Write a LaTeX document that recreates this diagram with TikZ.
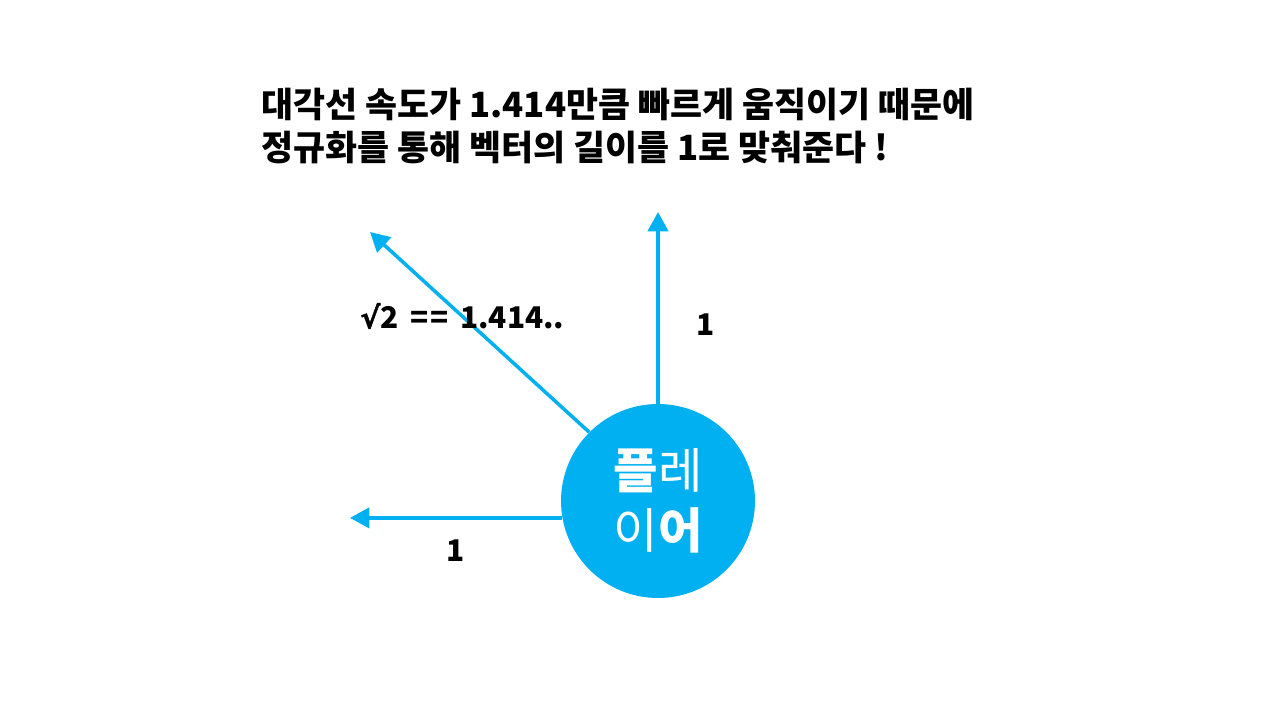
\documentclass[tikz,border=0pt]{standalone}
\usepackage{fontspec}
\setmainfont{Noto Sans CJK KR}
\newfontfamily\symfont{DejaVu Sans}[FakeBold=1.5]
\usepackage{xcolor}
\usepackage{tikz}
\usetikzlibrary{arrows.meta,positioning}
\definecolor{skyblue}{HTML}{00B0F0}

\begin{document}
\begin{tikzpicture}[
  x=0.02cm, y=-0.02cm, >={Triangle[length=11pt,width=11.5pt]},
  player/.style={circle, fill=skyblue, minimum size=3.88cm, inner sep=0pt, text=white, font=\fontsize{27.5}{34}\selectfont, align=center},
  vec/.style={->, line width=2pt, skyblue},
  label/.style={font=\fontsize{17}{20}\selectfont\bfseries, inner sep=0pt},
  title/.style={font=\fontsize{19.8}{25}\selectfont\bfseries, align=left, inner sep=0pt}
]
\useasboundingbox (0,0) rectangle (1280,720);

\node[title, anchor=west] (head) at (261,126) {대각선 속도가 1.414만큼 빠르게 움직이기 때문에\\정규화를 통해 벡터의 길이를 1로 맞춰준다 !};

\node[player] (player) at (658,501) {{\bfseries 플}레\\이{\bfseries 어}};

\coordinate (up) at (658,212);
\coordinate (diag) at (370,232);
\coordinate (left) at (350,517);

\draw[vec] (player) -- (up);
\draw[vec] (player.135) -- (diag);
\draw[vec] (player.190) -- (player.190 -| left);

\node[label] (len1) at (706,325) {1};
\node[label] (len2) at (456,551) {1};
\node[label, anchor=west] (len3) at (360,316) {{\symfont √}2 \,=\hspace{1pt}=\, 1.414..};

\end{tikzpicture}
\end{document}
